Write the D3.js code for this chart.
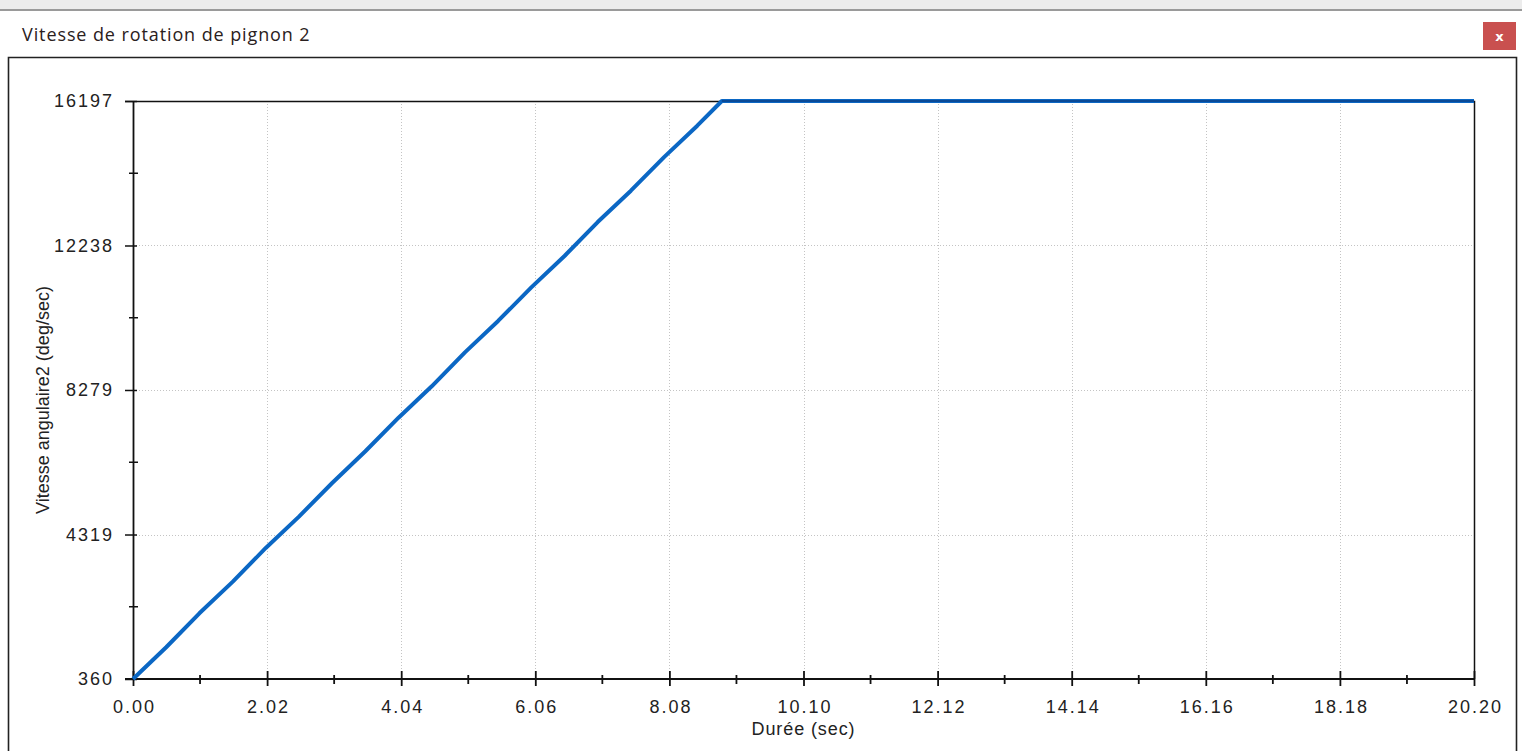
<!doctype html>
<html>
  <head>
    <meta charset="utf-8">
    <script src="https://cdnjs.cloudflare.com/ajax/libs/d3/7.8.5/d3.min.js"></script>
    <style>
      body { margin:0; background:#fff; }
      svg { display:block; }
      .tick text { font-family:"Liberation Sans", Arial, sans-serif; font-size:18px; letter-spacing:2px; fill:#222; }
    </style>
  </head>
  <body>
    <svg id="chart" width="1522" height="751"></svg>
    <script>
      // time (s) and angular speed (deg/sec)
      var times  = [0, 0.5, 1.0, 1.5, 2.0, 2.5, 3.0, 3.5, 4.0, 4.5, 5.0, 5.5, 6.0, 6.5, 7.0, 7.5, 8.0, 8.5, 8.87, 20.2];
      var speeds = [360, 1230, 2160, 3020, 3950, 4810, 5730, 6600, 7520, 8380, 9310, 10170, 11090, 11950, 12880, 13740, 14660, 15520, 16197, 16197];
      var xTicks = [0, 2.02, 4.04, 6.06, 8.08, 10.10, 12.12, 14.14, 16.16, 18.18, 20.20];
      var yTicks = [360, 4319, 8279, 12238, 16197];
      var title = "Vitesse de rotation de pignon 2";
      var xTitle = "Durée (sec)";
      var yTitle = "Vitesse angulaire2 (deg/sec)";

      var data = times.map((t, i) => ({t: t, v: speeds[i]}));

      var svg = d3.select("#chart");
      var W = 1522, H = 751;

      // window chrome
      svg.append("rect").attr("x", 0).attr("y", 0).attr("width", W).attr("height", 9).attr("fill", "#ececec");
      svg.append("line").attr("x1", 0).attr("x2", W).attr("y1", 10).attr("y2", 10)
        .attr("stroke", "#9a9a9a").attr("stroke-width", 2);
      svg.append("text").attr("x", 22).attr("y", 41).text(title)
        .style("font-family", "'Open Sans', 'Noto Sans', sans-serif").style("font-size", "18px")
        .style("letter-spacing", "0.9px").attr("fill", "#2a2020");
      svg.append("rect").attr("x", 1483).attr("y", 22).attr("width", 33).attr("height", 28).attr("fill", "#c9504f");
      svg.append("text").attr("x", 1499.5).attr("y", 41).attr("text-anchor", "middle").text("x")
        .style("font-family", "'DejaVu Sans', sans-serif").style("font-size", "13px").style("font-weight", "bold").attr("fill", "#fff");
      svg.append("path").attr("d", "M8.5," + H + "V57.5H1516.5V" + H)
        .attr("fill", "none").attr("stroke", "#222").attr("stroke-width", 1.6);

      var x = d3.scaleLinear().domain([0, 20.2]).range([133, 1474]);
      var y = d3.scaleLinear().domain([360, 16197]).range([679, 101]);

      // grid
      var grid = svg.append("g").attr("stroke", "#c4c4c4").attr("stroke-dasharray", "1,2");
      grid.selectAll(".gx").data(xTicks.slice(1, -1)).enter().append("line")
        .attr("x1", d => Math.round(x(d)) + 0.5).attr("x2", d => Math.round(x(d)) + 0.5)
        .attr("y1", 101).attr("y2", 679);
      grid.selectAll(".gy").data(yTicks.slice(1, -1)).enter().append("line")
        .attr("y1", d => Math.round(y(d)) + 0.5).attr("y2", d => Math.round(y(d)) + 0.5)
        .attr("x1", 133).attr("x2", 1474);

      // frame top and right
      svg.append("path").attr("d", "M125," + (y(16197) + 0.5) + "H" + (x(20.2) + 0.5) + "V" + 679)
        .attr("fill", "none").attr("stroke", "#111").attr("stroke-width", 1.5);

      // minor ticks
      var xMinor = xTicks.slice(0, -1).map((d, i) => (d + xTicks[i + 1]) / 2);
      var yMinor = yTicks.slice(0, -1).map((d, i) => (d + yTicks[i + 1]) / 2);
      svg.append("g").selectAll("line").data(xMinor).enter().append("line")
        .attr("x1", d => x(d)).attr("x2", d => x(d)).attr("y1", 675).attr("y2", 684)
        .attr("stroke", "#111").attr("stroke-width", 1.8);
      svg.append("g").selectAll("line").data(yMinor).enter().append("line")
        .attr("y1", d => y(d)).attr("y2", d => y(d)).attr("x1", 129).attr("x2", 138)
        .attr("stroke", "#111").attr("stroke-width", 1.5);

      // axes
      var xAxis = d3.axisBottom(x).tickValues(xTicks).tickFormat(d3.format(".2f")).tickSizeInner(7).tickSizeOuter(0).tickPadding(14);
      var gx = svg.append("g").attr("transform", "translate(0,679)").call(xAxis);
      gx.select(".domain").attr("stroke", "#111").attr("stroke-width", 1.8).attr("d", "M125,0H1474");
      gx.selectAll(".tick line").attr("y1", -8).attr("y2", 7).attr("stroke", "#111").attr("stroke-width", 1.8);
      gx.selectAll(".tick text").attr("dx", "1px");

      var yAxis = d3.axisLeft(y).tickValues(yTicks).tickFormat(d3.format("d")).tickSizeInner(8).tickSizeOuter(0).tickPadding(11);
      var gy = svg.append("g").attr("transform", "translate(133,0)").call(yAxis);
      gy.select(".domain").attr("stroke", "#111").attr("stroke-width", 1.8);
      gy.selectAll(".tick line").attr("x1", -8).attr("x2", 4).attr("stroke", "#111").attr("stroke-width", 1.5);

      // axis titles
      svg.append("text").attr("x", x(10.1)).attr("y", 735).attr("text-anchor", "middle").text(xTitle)
        .style("font-family", "'Liberation Sans', Arial, sans-serif").style("font-size", "18px")
        .style("letter-spacing", "0.9px").attr("fill", "#222");
      svg.append("text").attr("transform", "translate(49,400) rotate(-90)").attr("text-anchor", "middle").text(yTitle)
        .style("font-family", "'Liberation Sans', Arial, sans-serif").style("font-size", "18px").attr("fill", "#222");

      // curve
      var line = d3.line().x(d => x(d.t)).y(d => y(d.v));
      svg.append("path").datum(data).attr("d", line)
        .attr("fill", "none").attr("stroke", "#0b67c4").attr("stroke-width", 4).attr("stroke-linejoin", "round");
      svg.append("line").attr("x1", x(8.87)).attr("x2", x(20.2)).attr("y1", y(16197)).attr("y2", y(16197))
        .attr("stroke", "#0a2f6a").attr("stroke-width", 1.2);
    </script>
  </body>
</html>
